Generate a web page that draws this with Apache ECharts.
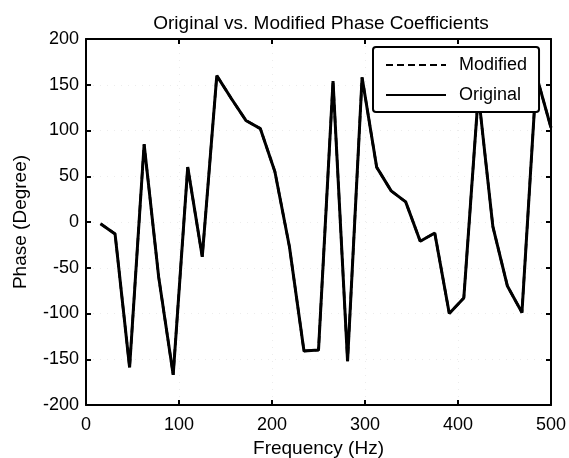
<!DOCTYPE html>
<html>
<head>
<meta charset="utf-8">
<script src="https://cdn.jsdelivr.net/npm/echarts@6/dist/echarts.min.js"></script>
<style>
  html, body { margin: 0; padding: 0; background: #fff; }
  #chart { width: 569px; height: 458px; }
</style>
</head>
<body>
<div id="chart"></div>
<script>
// frequency bins (Hz)
const frequency = [
  15.625, 31.25, 46.875, 62.5, 78.125, 93.75, 109.375, 125,
  140.625, 156.25, 171.875, 187.5, 203.125, 218.75, 234.375, 250,
  265.625, 281.25, 296.875, 312.5, 328.125, 343.75, 359.375, 375,
  390.625, 406.25, 421.875, 437.5, 453.125, 468.75, 484.375, 500
];
// phase values (degrees)
const originalPhase = [
  -2, -13, -159, 85, -60, -167, 60, -38,
  160, 135, 111, 102, 55, -27, -141, -140,
  154, -152, 158, 60, 34, 22, -21, -12,
  -100, -83, 140, -5, -70, -99, 160, 103
];
// modified curve sits right under the original one
const modifiedPhase = [
  -2, -13, -159, 85, -60, -167, 60, -38,
  160, 135, 111, 102, 55, -27, -141, -140,
  154, -152, 158, 60, 34, 22, -21, -12,
  -100, -83, 140, -5, -70, -99, 160, 103
];
const xTicks = [0, 100, 200, 300, 400, 500];
const yTicks = [-200, -150, -100, -50, 0, 50, 100, 150, 200];

const font = "'Liberation Sans', Arial, sans-serif";

const toPairs = (xs, ys) => xs.map((x, i) => [x, ys[i]]);

const axisLine = { show: true, onZero: false, lineStyle: { color: '#000', width: 2 } };
const tickIn = { show: true, inside: true, length: 5, lineStyle: { color: '#000', width: 2 } };
const gridDots = { show: true, lineStyle: { color: '#ececec', type: [1, 6], width: 1 } };

const chart = echarts.init(document.getElementById('chart'), null, { renderer: 'canvas' });

chart.setOption({
  animation: false,
  backgroundColor: '#fff',
  title: {
    text: 'Original vs. Modified Phase Coefficients',
    left: 316,
    textAlign: 'center',
    top: 9,
    textStyle: { fontFamily: font, fontSize: 19, fontWeight: 'normal', color: '#000' }
  },
  grid: { left: 86, right: 18, top: 39, bottom: 53, outerBoundsMode: 'none', containLabel: false },
  legend: {
    orient: 'vertical',
    left: 373,
    top: 47,
    width: 167,
    padding: [9, 12, 8, 12],
    itemGap: 12,
    itemWidth: 60,
    itemHeight: 10,
    backgroundColor: '#fff',
    borderColor: '#000',
    borderWidth: 2,
    borderRadius: 3,
    itemStyle: { opacity: 0 },
    textStyle: { fontFamily: font, fontSize: 18, color: '#000', padding: [0, 0, 0, 8] },
    data: ['Modified', 'Original']
  },
  xAxis: [
    {
      type: 'value',
      min: 0, max: 500, interval: 100,
      name: 'Frequency (Hz)',
      nameLocation: 'middle',
      nameGap: 32,
      nameTextStyle: { fontFamily: font, fontSize: 19, color: '#000' },
      axisLine: axisLine,
      axisTick: tickIn,
      axisLabel: {
        fontFamily: font, fontSize: 18, color: '#000', margin: 11,
        formatter: (v) => xTicks.includes(v) ? String(v) : ''
      },
      splitLine: gridDots
    },
    {
      type: 'value', position: 'top',
      min: 0, max: 500, interval: 100,
      axisLine: axisLine, axisTick: tickIn,
      axisLabel: { show: false }, splitLine: { show: false }
    }
  ],
  yAxis: [
    {
      type: 'value',
      min: -200, max: 200, interval: 50,
      name: 'Phase (Degree)',
      nameLocation: 'middle',
      nameGap: 56,
      nameTextStyle: { fontFamily: font, fontSize: 19, color: '#000' },
      axisLine: axisLine,
      axisTick: tickIn,
      axisLabel: {
        fontFamily: font, fontSize: 18, color: '#000', margin: 7,
        formatter: (v) => yTicks.includes(v) ? String(v) : ''
      },
      splitLine: gridDots
    },
    {
      type: 'value', position: 'right',
      min: -200, max: 200, interval: 50,
      axisLine: axisLine, axisTick: tickIn,
      axisLabel: { show: false }, splitLine: { show: false }
    }
  ],
  series: [
    {
      name: 'Modified',
      type: 'line',
      xAxisIndex: 1,
      yAxisIndex: 1,
      data: toPairs(frequency, modifiedPhase),
      symbol: 'none',
      lineStyle: { color: '#000', width: 2.5, type: [7, 4] },
      itemStyle: { color: '#000' },
      z: 2
    },
    {
      name: 'Original',
      type: 'line',
      data: toPairs(frequency, originalPhase),
      symbol: 'none',
      lineStyle: { color: '#000', width: 3 },
      itemStyle: { color: '#000' },
      z: 3
    }
  ]
});
</script>
</body>
</html>
